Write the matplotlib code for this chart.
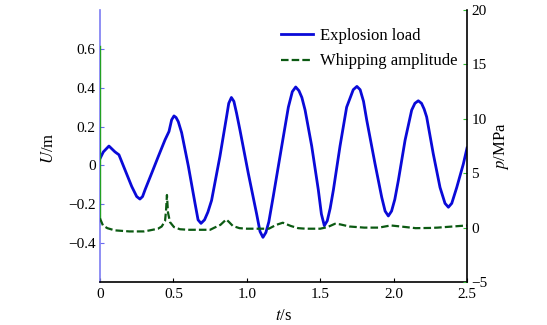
import numpy as np
from matplotlib import pyplot as plt
from matplotlib.lines import Line2D

plt.rcParams['font.family'] = ['Liberation Serif', 'DejaVu Serif']
plt.rcParams['mathtext.fontset'] = 'stix'

# whipping response U (m), left axis
u_time = [0.0, 0.023, 0.061, 0.102, 0.129, 0.17, 0.216, 0.25, 0.272, 0.29, 0.307,
          0.352, 0.397, 0.443, 0.47, 0.488, 0.504, 0.518, 0.533, 0.556, 0.602,
          0.647, 0.668, 0.688, 0.712, 0.735, 0.76, 0.817, 0.863, 0.877, 0.895,
          0.912, 0.93, 0.954, 1.01, 1.067, 1.09, 1.11, 1.13, 1.15, 1.18,
          1.238, 1.283, 1.31, 1.333, 1.355, 1.375, 1.397, 1.442, 1.487, 1.508,
          1.528, 1.548, 1.568, 1.59, 1.635, 1.68, 1.725, 1.75, 1.772, 1.795,
          1.817, 1.873, 1.919, 1.942, 1.964, 1.986, 2.008, 2.032, 2.078, 2.123,
          2.145, 2.168, 2.19, 2.208, 2.225, 2.27, 2.316, 2.35, 2.373, 2.396,
          2.43, 2.475, 2.5]
u_val = [0.035, 0.07, 0.10, 0.07, 0.055, -0.022, -0.108, -0.16, -0.173, -0.16, -0.125,
         -0.04, 0.046, 0.132, 0.175, 0.235, 0.255, 0.247, 0.226, 0.169, -0.004,
         -0.194, -0.28, -0.298, -0.28, -0.24, -0.18, 0.047, 0.255, 0.32, 0.35,
         0.33, 0.27, 0.18, -0.04, -0.25, -0.34, -0.37, -0.345, -0.29, -0.16,
         0.10, 0.30, 0.38, 0.404, 0.385, 0.35, 0.285, 0.10, -0.125, -0.25,
         -0.31, -0.285, -0.22, -0.125, 0.10, 0.30, 0.39, 0.407, 0.39, 0.33,
         0.233, 0.01, -0.164, -0.235, -0.26, -0.235, -0.175, -0.078, 0.13, 0.285,
         0.32, 0.333, 0.32, 0.29, 0.25, 0.06, -0.113, -0.195, -0.215, -0.195,
         -0.113, 0.008, 0.09]

# pressure p (MPa), right axis
pulse_time = [0.0, 0.0]
pulse_val = [16.7, 0.85]
p_time = [0.0, 0.02, 0.05, 0.1, 0.2, 0.3, 0.34, 0.395, 0.42, 0.443, 0.45, 0.456,
          0.463, 0.477, 0.504, 0.545, 0.6, 0.75, 0.78, 0.82, 0.86, 0.88, 0.905,
          0.95, 1.0, 1.15, 1.2, 1.245, 1.3, 1.35, 1.4, 1.5, 1.55, 1.6, 1.635,
          1.7, 1.8, 1.9, 1.98, 2.05, 2.15, 2.25, 2.3, 2.4, 2.5]
p_val = [0.85, 0.2, -0.05, -0.25, -0.35, -0.35, -0.25, -0.1, 0.1, 0.6, 1.6, 3.0,
         1.4, 0.5, 0.05, -0.15, -0.2, -0.2, 0.0, 0.25, 0.75, 0.5, 0.15,
         -0.05, -0.1, -0.1, 0.25, 0.45, 0.15, -0.05, -0.1, -0.1, 0.05, 0.35, 0.3,
         0.1, 0.0, 0.0, 0.2, 0.1, -0.05, -0.03, 0.0, 0.1, 0.2]

x_ticks = [0, 0.5, 1.0, 1.5, 2.0, 2.5]
x_labels = ['0', '0.5', '1.0', '1.5', '2.0', '2.5']
u_ticks = [-0.4, -0.2, 0, 0.2, 0.4, 0.6]
u_labels = ['\u22120.4', '\u22120.2', '0', '0.2', '0.4', '0.6']
p_ticks = [-5, 0, 5, 10, 15, 20]
p_labels = ['\u22125', '0', '5', '10', '15', '20']

blue = '#0a0ad8'
green = '#0b5a12'

fig = plt.figure(figsize=(5.47, 3.25), dpi=100)
ax = fig.add_axes([0.1828, 0.1323, 0.671, 0.8367])
ax2 = ax.twinx()

ax.plot(u_time, u_val, color=blue, lw=2.0)
ax2.plot(pulse_time, pulse_val, color='#22a022', lw=1.0)
ax2.plot(p_time, p_val, color=green, lw=1.6, dashes=(3.4, 1.4))

ax.set_xlim(0, 2.5)
ax.set_ylim(-0.6, 0.8)
ax2.set_ylim(-5, 20)

ax.set_xticks(x_ticks)
ax.set_xticklabels(x_labels)
ax.set_yticks(u_ticks)
ax.set_yticklabels(u_labels)
ax2.set_yticks(p_ticks)
ax2.set_yticklabels(p_labels)

ax.tick_params(axis='x', direction='in', length=3, labelsize=11, pad=4)
ax.tick_params(axis='y', direction='in', length=3, labelsize=11, color='#6a6af0', pad=3)
ax2.tick_params(axis='y', direction='in', length=3, labelsize=11, color='#33bb33', pad=3)

for a in (ax, ax2):
    a.spines['top'].set_visible(False)
ax2.spines['left'].set_visible(False)
ax2.spines['bottom'].set_visible(False)
ax.spines['right'].set_visible(False)
ax.spines['left'].set_color('#7c7cf2')
ax.spines['left'].set_linewidth(1.2)
ax2.spines['right'].set_color('black')
ax2.spines['right'].set_linewidth(1.2)
ax.spines['bottom'].set_linewidth(1.2)

ax.set_xlabel('$t$/s', fontsize=12)
ax.xaxis.set_label_coords(0.5, -0.095)
ax.set_ylabel('$U$/m', fontsize=12)
ax.yaxis.set_label_coords(-0.118, 0.49)
ax2.set_ylabel('$p$/MPa', fontsize=12)
ax2.yaxis.set_label_coords(1.068, 0.5)

handles = [Line2D([], [], color=blue, lw=2.0),
           Line2D([], [], color=green, lw=1.6, dashes=(3.4, 1.4))]
ax2.legend(handles, ['Explosion load', 'Whipping amplitude'], loc='upper right',
           bbox_to_anchor=(1.0, 0.97), frameon=False, fontsize=12,
           handlelength=1.9, handletextpad=0.4, labelspacing=0.55, borderaxespad=0.2)

fig.savefig('out.png', dpi=100)
